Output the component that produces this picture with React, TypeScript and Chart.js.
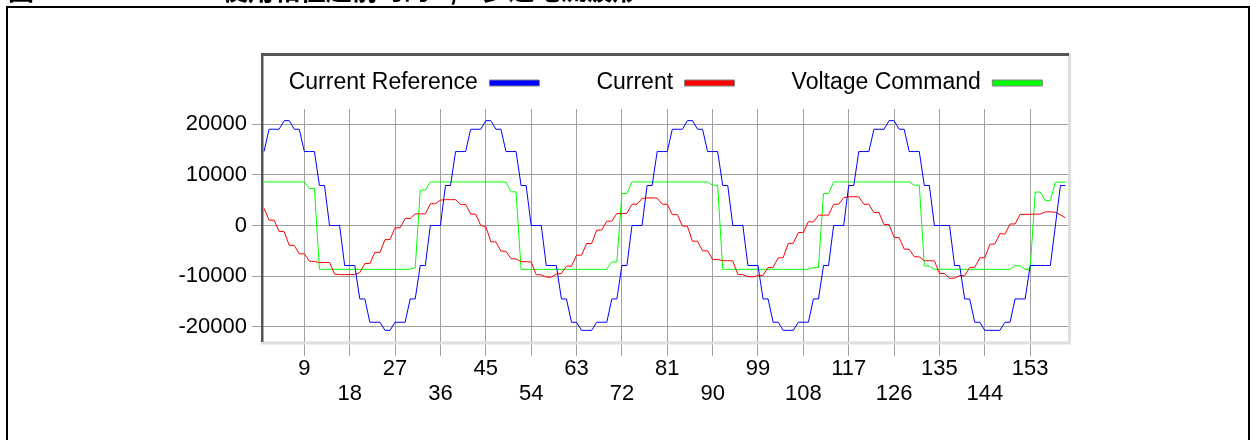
import React, { useEffect, useRef } from 'react';
import { Chart, registerables } from 'chart.js';

Chart.register(...registerables);

const captionLeft = '图 16:';
const captionMain = '使用相位超前时的 1/4 步进电流波形';

const seriesNames = ['Current Reference', 'Current', 'Voltage Command'];
const seriesColors = ['#0000ff', '#ff0000', '#00ff00'];

const xTickValues = [9, 18, 27, 36, 45, 54, 63, 72, 81, 90, 99, 108, 117, 126, 135, 144, 153];
const yTickValues = [-20000, -10000, 0, 10000, 20000];

// samples 1..160
const currentReference = [
  14600, 19000, 19000, 19000, 20700, 20700, 19000, 19000, 14600, 14600,
  14600, 7900, 7900, 0, 0, 0, -7900, -7900, -7900, -14500,
  -14500, -19100, -19100, -19100, -20700, -20700, -19100, -19100, -19100, -14500,
  -14500, -7900, -7900, 0, 0, 0, 7900, 7900, 14600, 14600,
  14600, 19000, 19000, 19000, 20700, 20700, 19000, 19000, 14600, 14600,
  14600, 7900, 7900, 0, 0, 0, -7900, -7900, -7900, -14500,
  -14500, -19100, -19100, -20700, -20700, -20700, -19100, -19100, -19100, -14500,
  -14500, -7900, -7900, 0, 0, 0, 7900, 7900, 14600, 14600,
  14600, 19000, 19000, 19000, 20700, 20700, 19000, 19000, 14600, 14600,
  14600, 7900, 7900, 0, 0, 0, -7900, -7900, -7900, -14500,
  -14500, -19100, -19100, -20700, -20700, -20700, -19100, -19100, -19100, -14500,
  -14500, -7900, -7900, 0, 0, 0, 7900, 7900, 14600, 14600,
  14600, 19000, 19000, 19000, 20700, 20700, 19000, 19000, 14600, 14600,
  14600, 7900, 7900, 0, 0, 0, 0, -7900, -7900, -14500,
  -14500, -19100, -19100, -20700, -20700, -20700, -20700, -19100, -19100, -14500,
  -14500, -14500, -7900, -7900, -7900, -7900, -7900, 0, 7900, 7900,
];

const current = [
  3400, 1050, 1050, -1150, -1200, -3900, -3950, -5600, -5600, -7050,
  -7100, -7300, -7300, -7300, -9600, -9700, -9700, -9700, -9650, -9300,
  -7500, -7500, -5300, -5300, -2800, -2750, -450, -450, 1400, 1400,
  2300, 2300, 2300, 4300, 4300, 5000, 5100, 5100, 5100, 4150,
  4150, 2250, 2250, 0, -200, -3200, -3250, -5050, -5100, -6550,
  -6600, -7150, -7150, -7200, -9700, -9750, -10200, -10200, -9550, -9500,
  -8000, -8050, -5850, -5850, -3550, -3550, -900, -900, 850, 850,
  2350, 2350, 2400, 4200, 4200, 5300, 5450, 5450, 5400, 4200,
  4200, 2150, 2150, -100, -150, -3100, -3100, -5000, -5000, -6700,
  -6700, -6950, -6950, -7000, -9650, -9700, -10100, -10150, -9850, -9850,
  -8300, -8250, -6400, -6350, -3550, -3500, -1400, -1350, 750, 700,
  2050, 2050, 2050, 4200, 4200, 5500, 5650, 5700, 5650, 4200,
  4200, 2550, 2550, 200, 200, -2350, -2400, -4650, -4700, -6150,
  -6200, -6950, -6950, -7000, -9450, -9500, -10450, -10400, -9900, -9900,
  -8300, -8250, -6400, -6350, -3700, -3650, -1600, -1700, 300, 300,
  2200, 2200, 2200, 2250, 2250, 2700, 2700, 2600, 2100, 1500,
];

const voltageCommand = [
  8600, 8600, 8600, 8600, 8600, 8600, 8600, 8600, 8600, 7300,
  7300, -8650, -8650, -8650, -8650, -8650, -8650, -8650, -8650, -8650,
  -8650, -8650, -8650, -8650, -8650, -8650, -8650, -8650, -8650, -8650,
  -8300, 7000, 7000, 8600, 8600, 8600, 8600, 8600, 8600, 8600,
  8600, 8600, 8600, 8600, 8600, 8600, 8600, 8600, 8600, 6650,
  6650, -8650, -8650, -8650, -8650, -8650, -8650, -8650, -8650, -8650,
  -8650, -8650, -8650, -8650, -8650, -8650, -8650, -8650, -8650, -7200,
  -7200, 6300, 6300, 8600, 8600, 8600, 8600, 8600, 8600, 8600,
  8600, 8600, 8600, 8600, 8600, 8600, 8600, 8600, 8600, 7950,
  7950, -8650, -8650, -8650, -8650, -8650, -8650, -8650, -8650, -8650,
  -8650, -8650, -8650, -8650, -8650, -8650, -8650, -8650, -8650, -8300,
  -8300, 6300, 6300, 8600, 8600, 8600, 8600, 8600, 8600, 8600,
  8600, 8600, 8600, 8600, 8600, 8600, 8600, 8600, 8600, 7950,
  7950, -8000, -8000, -8650, -8650, -8650, -8650, -8650, -8650, -8650,
  -8650, -8650, -8650, -8650, -8650, -8650, -8650, -8650, -8650, -7950,
  -7950, -8650, -8650, 6600, 6600, 4900, 4900, 8550, 8550, 8550,
];

const FONT = "'Liberation Sans', Arial, Helvetica, sans-serif";

const framePlugin = {
  id: 'framePlugin',
  afterDraw(chart: any) {
    const { ctx, chartArea } = chart;
    const l = chartArea.left;
    const r = chartArea.right;
    const b = chartArea.bottom;
    const t = 53;
    ctx.save();
    // light (right / bottom) edges
    ctx.fillStyle = '#dedede';
    ctx.fillRect(r - 1, t, 3, b - t + 2);
    ctx.fillRect(l - 1, b - 0.5, r - l + 3, 3);
    // dark (left / top) edges
    ctx.fillStyle = '#555555';
    ctx.fillRect(l - 1, t, r - l + 1, 3);
    ctx.fillRect(l - 1, t, 2.5, b - t);
    // outer black frame
    ctx.strokeStyle = '#000000';
    ctx.lineWidth = 2;
    ctx.strokeRect(7, 7, 1242, 460);
    // caption (cut off at the top)
    ctx.fillStyle = '#000000';
    ctx.textBaseline = 'alphabetic';
    ctx.font = "bold 26px 'Noto Sans CJK SC', sans-serif";
    ctx.fillText(captionLeft, 8, 0);
    ctx.fillText(captionMain, 222, 0);
    ctx.restore();
  },
};

export default function App() {
  const canvasRef = useRef<HTMLCanvasElement | null>(null);

  useEffect(() => {
    const canvas = canvasRef.current;
    if (!canvas) return;
    const series = [currentReference, current, voltageCommand];
    const chart = new Chart(canvas, {
      type: 'line',
      data: {
        datasets: series.map((vals, k) => ({
          label: seriesNames[k],
          data: vals.map((v, i) => ({ x: i + 1, y: v })),
          borderColor: seriesColors[k],
          backgroundColor: seriesColors[k],
          borderWidth: 1,
          pointRadius: 0,
          tension: 0,
          fill: false,
          yAxisID: 'y',
        })),
      },
      options: {
        responsive: false,
        animation: false,
        events: [],
        layout: { padding: { top: 14.5, left: 170, right: 90, bottom: 18 } },
        plugins: {
          tooltip: { enabled: false },
          title: {
            display: true,
            text: '',
            position: 'top',
            weight: 500,
            font: { size: 1, lineHeight: 1 },
            padding: { top: 0, bottom: 3.5 },
          } as any,
          legend: {
            display: true,
            position: 'top',
            align: 'center',
            rtl: true,
            reverse: true,
            labels: {
              color: '#000000',
              font: { family: FONT, size: 23 },
              boxWidth: 50,
              boxHeight: 6,
              padding: 57,
              generateLabels: (ch: any) =>
                ch.data.datasets.map((ds: any, i: number) => ({
                  text: ds.label,
                  fillStyle: ds.borderColor,
                  strokeStyle: '#808080',
                  lineWidth: 1,
                  datasetIndex: i,
                  hidden: false,
                })),
            },
          },
        },
        scales: {
          x: {
            type: 'linear',
            min: 0.6,
            max: 160.7,
            afterBuildTicks: (s: any) => {
              s.ticks = xTickValues.map((v) => ({ value: v }));
            },
            afterFit: (s: any) => {
              s.height = 80;
            },
            grid: { color: '#a0a0a0', lineWidth: 1, tickLength: 14, drawTicks: true },
            border: { display: false },
            ticks: {
              autoSkip: false,
              maxRotation: 0,
              minRotation: 0,
              padding: 1,
              color: '#000000',
              font: { family: FONT, size: 22, lineHeight: 1.11 },
              callback: (value: any) => {
                const v = Number(value);
                return (v / 9) % 2 === 1 ? String(v) : ['', String(v)];
              },
            },
          },
          y: {
            type: 'linear',
            position: 'left',
            min: -23000,
            max: 23000,
            afterBuildTicks: (s: any) => {
              s.ticks = yTickValues.map((v) => ({ value: v }));
            },
            afterFit: (s: any) => {
              s.width = 92;
            },
            grid: { color: '#a0a0a0', lineWidth: 1, tickLength: 10, drawTicks: true },
            border: { display: false },
            ticks: {
              padding: 5,
              color: '#000000',
              font: { family: FONT, size: 22 },
              callback: (value: any) => String(value),
            },
          },
          yRightSpacer: {
            type: 'linear',
            position: 'right',
            min: 0,
            max: 1,
            display: true,
            grid: { display: false, drawTicks: false },
            border: { display: false },
            ticks: { display: false },
            afterFit: (s: any) => {
              s.width = 92;
            },
          },
        },
      },
      plugins: [framePlugin],
    });
    return () => chart.destroy();
  }, []);

  return (
    <div style={{ position: 'absolute', left: 0, top: 0, width: 1251, height: 440, background: '#ffffff' }}>
      <canvas ref={canvasRef} width={1251} height={440} style={{ display: 'block', width: 1251, height: 440 }} />
    </div>
  );
}
